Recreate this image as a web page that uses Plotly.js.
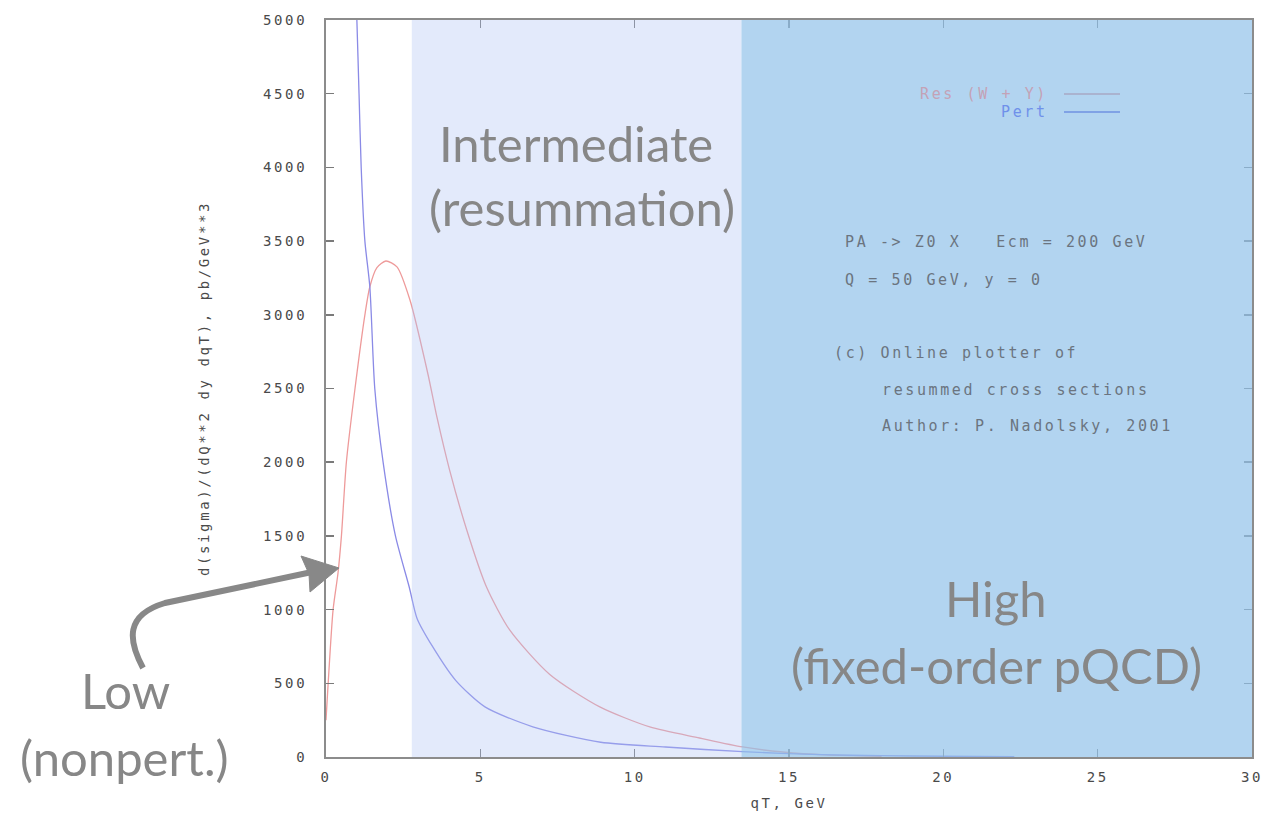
<!DOCTYPE html>
<html>
<head>
<meta charset="utf-8">
<script src="https://cdn.plot.ly/plotly-3.0.1.min.js"></script>
<style>
  html, body { margin: 0; padding: 0; background: #fff; }
  #chart { width: 1266px; height: 817px; }
  text[style*="Mono"] { letter-spacing: 2.6px; }
</style>
</head>
<body>
<div id="chart"></div>
<script>
// ---- data ----
const qtPert  = [0.90, 1.00, 1.07, 1.14, 1.26, 1.42, 1.58, 1.85, 2.25, 2.70, 2.95, 3.45, 4.20, 5.15, 6.70, 8.90, 11.0, 13.5, 16.0, 18.0, 20.0, 22.3];
const sigPert = [5600, 5000, 4500, 4000, 3500, 3190, 2500, 2000, 1500, 1150, 940, 750, 520, 340, 205, 100, 68, 36, 16, 9, 5, 3];

const qtRes  = [0.00, 0.07, 0.23, 0.39, 0.50, 0.66, 0.94, 1.26, 1.42, 1.65, 1.94, 2.30, 2.72, 3.30, 3.60, 4.00, 4.56, 5.20, 5.95, 7.25, 8.87, 10.49, 12.1, 13.5, 14.8, 16.2, 18.0];
const sigRes = [250, 500, 1000, 1250, 1500, 2000, 2500, 3000, 3190, 3320, 3365, 3325, 3100, 2600, 2300, 1950, 1540, 1153, 862, 560, 340, 204, 129, 68, 34, 14, 5];

const xTicks = [0, 5, 10, 15, 20, 25, 30];
const yTicks = [0, 500, 1000, 1500, 2000, 2500, 3000, 3500, 4000, 4500, 5000];

const regionLow = 2.78;   // boundary low / intermediate (GeV)
const regionHigh = 13.46; // boundary intermediate / high (GeV)

// ---- pixel helpers (plot area: x 326..1252, y 20..757) ----
const L = 326, R = 1252, T = 20, B = 757;
const px = x => (x - L) / (R - L);
const py = y => (B - y) / (B - T);

const mono = 'DejaVu Sans Mono, monospace';
const big = 'Lato, Noto Sans, sans-serif';

const traces = [
  { x: qtRes, y: sigRes, type: 'scatter', mode: 'lines', name: 'Res (W + Y)',
    line: { color: '#ee9a9a', width: 1.3, shape: 'spline', smoothing: 0.7 }, hoverinfo: 'x+y' },
  { x: qtPert, y: sigPert, type: 'scatter', mode: 'lines', name: 'Pert',
    line: { color: '#8a8ae6', width: 1.3, shape: 'spline', smoothing: 0.7 }, hoverinfo: 'x+y' }
];

const arrowPath =
  `M${px(143)},${py(668)} C${px(128)},${py(640)} ${px(125)},${py(615)} ${px(165)},${py(603)} L${px(312)},${py(572)}`;
const headPath =
  `M${px(339)},${py(568)} L${px(301)},${py(556)} L${px(309)},${py(574)} L${px(310)},${py(592)} Z`;

const shapes = [
  { type: 'rect', xref: 'x', yref: 'paper', x0: regionLow, x1: regionHigh, y0: 0, y1: 1,
    fillcolor: 'rgb(175,195,244)', opacity: 0.35, line: { width: 0 }, layer: 'above' },
  { type: 'rect', xref: 'x', yref: 'paper', x0: regionHigh, x1: 30, y0: 0, y1: 1,
    fillcolor: 'rgb(146,194,234)', opacity: 0.7, line: { width: 0 }, layer: 'above' },
  // legend sample lines
  { type: 'line', xref: 'paper', yref: 'paper', x0: px(1064), x1: px(1120), y0: py(94), y1: py(94),
    line: { color: '#a7a8c4', width: 1.5 }, layer: 'above' },
  { type: 'line', xref: 'paper', yref: 'paper', x0: px(1064), x1: px(1120), y0: py(112), y1: py(112),
    line: { color: '#6f92e2', width: 1.5 }, layer: 'above' },
  // curved arrow
  { type: 'path', xref: 'paper', yref: 'paper', path: arrowPath,
    line: { color: '#888888', width: 6 }, fillcolor: 'rgba(0,0,0,0)', layer: 'above' },
  { type: 'path', xref: 'paper', yref: 'paper', path: headPath,
    line: { color: '#888888', width: 1 }, fillcolor: '#888888', layer: 'above' }
];

const smallTxt = '#6b7480';
function note(text, x, y, opts) {
  return Object.assign({ text, xref: 'paper', yref: 'paper', x: px(x), y: py(y),
    showarrow: false, xanchor: 'left', yanchor: 'middle',
    font: { family: mono, size: 15, color: smallTxt } }, opts || {});
}
function label(text, x, y) {
  return { text, xref: 'paper', yref: 'paper', x: px(x), y: py(y), showarrow: false,
    xanchor: 'center', yanchor: 'middle', font: { family: big, size: 49, color: '#878787' } };
}

const annotations = [
  note('Res (W + Y)', 1050, 94, { xanchor: 'right', font: { family: mono, size: 15, color: '#c4a2b6' } }),
  note('Pert', 1050, 112, { xanchor: 'right', font: { family: mono, size: 15, color: '#6f90ea' } }),
  note('PA -> Z0 X\u00A0\u00A0\u00A0Ecm = 200 GeV', 843, 242),
  note('Q = 50 GeV, y = 0', 843, 280),
  note('(c) Online plotter of', 832, 353),
  note('resummed cross sections', 880, 390),
  note('Author: P. Nadolsky, 2001', 880, 426),
  label('Intermediate', 576, 143),
  label('(resummation)', 582, 207),
  label('High', 996, 598),
  label('(fixed-order pQCD)', 996, 665),
  label('Low', 125, 690),
  label('(nonpert.)', 124, 757)
];

const axisCommon = {
  showgrid: false, zeroline: false, showline: true, linecolor: '#8c8c8c', linewidth: 2,
  mirror: 'ticks', ticks: 'inside', ticklen: 8, tickwidth: 1.5, tickcolor: '#7a7a7a',
  tickfont: { family: mono, size: 14, color: '#4a4a4a' }
};

const layout = {
  width: 1266, height: 817,
  margin: { l: L, r: 1266 - R, t: T, b: 817 - B },
  paper_bgcolor: '#ffffff', plot_bgcolor: '#ffffff',
  showlegend: false,
  xaxis: Object.assign({}, axisCommon, {
    range: [0, 30], tickvals: xTicks, ticktext: xTicks.map(String), ticklabelstandoff: 6,
    title: { text: 'qT, GeV', font: { family: mono, size: 14, color: '#4a4a4a' }, standoff: 14 }
  }),
  yaxis: Object.assign({}, axisCommon, {
    range: [0, 5000], tickvals: yTicks, ticktext: yTicks.map(String), ticklabelstandoff: 14,
    title: { text: 'd(sigma)/(dQ**2 dy dqT), pb/GeV**3', font: { family: mono, size: 14, color: '#4a4a4a' }, standoff: 50 }
  }),
  shapes, annotations
};

Plotly.newPlot('chart', traces, layout, { displayModeBar: false, staticPlot: true });
</script>
</body>
</html>
